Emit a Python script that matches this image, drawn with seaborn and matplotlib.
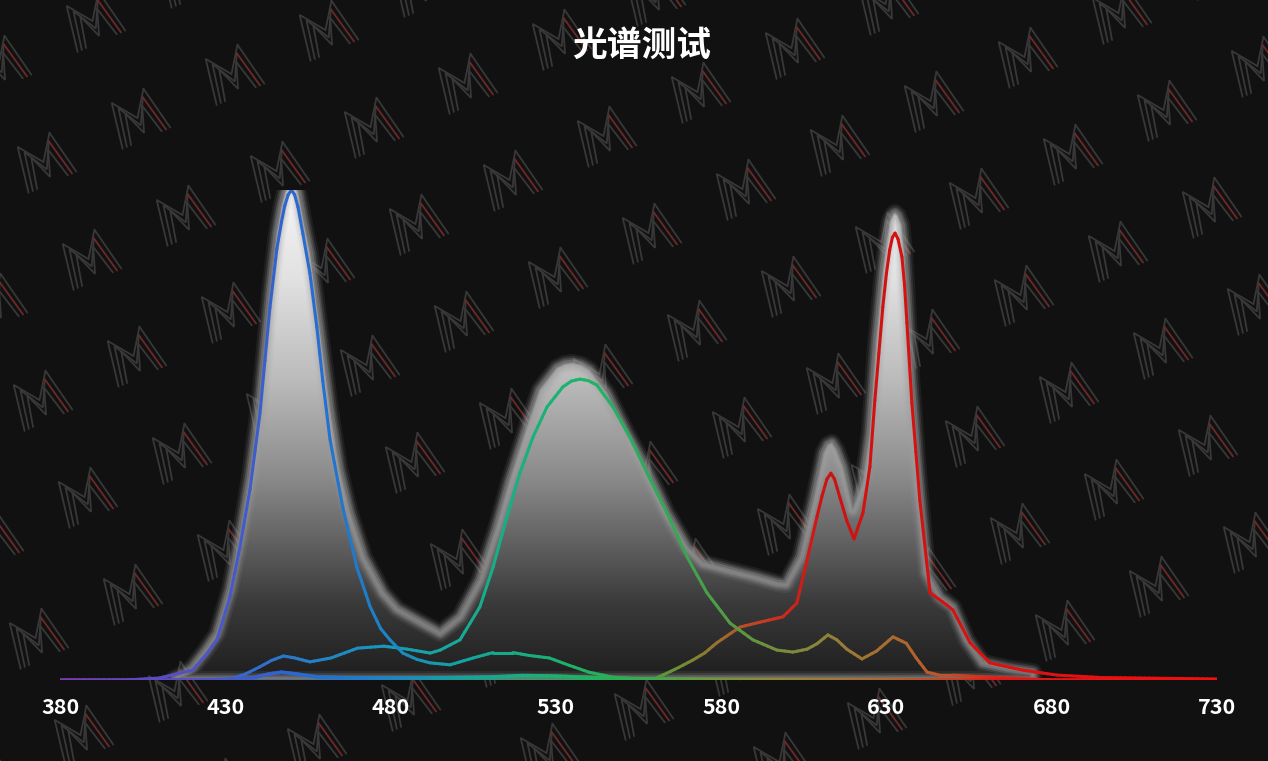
import numpy as np
import matplotlib
matplotlib.use("Agg")
import matplotlib.pyplot as plt
import seaborn as sns
from matplotlib.collections import LineCollection
from matplotlib.colors import LinearSegmentedColormap
from matplotlib.patches import Polygon

# ---- data (relative intensity, blue peak = 100) ----
ticks = [380, 430, 480, 530, 580, 630, 680, 730]
title = "光谱测试"

total_nm = [414.8, 417, 420, 424, 427.5, 431.4, 434.4, 437.5, 440.5, 443.5, 445.6, 447, 448, 449,
            450, 451, 452, 453.5, 455.6, 457.7, 461.7, 464.5, 467.7, 472, 477.7, 482, 488, 495,
            501, 507, 512.1, 516.1, 521.2, 525.1, 530.3, 532.7, 535.1, 537.7, 540.2, 545.4, 551.4,
            557.5, 563.6, 569.7, 574.5, 582.7, 590.8, 596.9, 599.6, 604, 608, 611, 612.3, 613.5,
            614.8, 616.8, 619.8, 622.9, 625, 627, 629, 630, 631, 632, 632.6, 633.4, 634.5, 635.3,
            636, 637.5, 639.4, 642.3, 646.2, 650.1, 654.3, 659.1, 666.4, 674.3]
total_val = [0.3, 1.0, 2.5, 6, 9.5, 18.5, 29, 41.5, 57, 78.5, 91, 96.5, 99.3, 101.3, 102, 101.3,
             99.5, 94, 87, 76, 55, 43, 34, 25, 17.8, 14.5, 12.2, 9.6, 12.9, 20.4, 31.2, 40.8,
             51.6, 59.2, 63.7, 64.5, 64.7, 64.3, 63.3, 58.6, 50.4, 42.9, 34.1, 27.1, 23.9, 22.4,
             21.0, 19.8, 19.6, 25.1, 36.7, 46.3, 48.0, 48.4, 47.0, 43.5, 34.7, 40.2, 50.4, 69.4,
             83.7, 89.0, 93.5, 95.0, 95.3, 94.8, 92.9, 87.5, 79.6, 61.2, 43.5, 21.8, 16.9, 14.9,
             8.2, 3.5, 2.4, 1.6]

blue_nm = [380, 400, 410, 415, 420, 424, 427.5, 431.4, 434.4, 437.5, 440.5, 443.5, 445.6, 447,
           448, 449, 450, 451, 452, 453.5, 455.6, 457.7, 459.5, 461.7, 465.6, 469.8, 473.8, 477,
           479.8, 483.7, 488, 491.9, 498, 505, 511, 517, 522, 528, 534, 540, 547, 555, 570, 600,
           650, 730]
blue_val = [0, 0, 0.4, 1.2, 2.0, 5, 8.2, 17, 27, 39, 54.5, 76, 88, 93.5, 96.8, 99, 100, 99,
            96.5, 91, 83, 72, 61, 49, 35, 23, 15, 10.5, 8.2, 5.5, 4.2, 3.5, 3.1, 4.5, 5.6, 5.6,
            5.0, 4.5, 3.0, 1.6, 0.6, 0.2, 0, 0, 0, 0]

green_nm = [380, 425, 432, 436, 440.5, 444, 447.6, 451, 455.6, 462, 470, 478, 485, 492, 495,
            501, 507, 511, 515.2, 519.1, 523.1, 527.3, 532.1, 534.7, 537.3, 539.8, 542.4, 547.3,
            552.4, 557.6, 563.6, 569.7, 575.7, 582.7, 589.6, 596.9, 601.7, 606, 609, 612.3, 615,
            618, 622.6, 627, 632, 636, 639, 642.3, 646, 650, 660, 670, 680, 730]
green_val = [0, 0, 0.3, 1.2, 2.7, 4.0, 4.9, 4.5, 3.7, 4.5, 6.5, 6.9, 6.3, 5.5, 6.1, 8.2, 14.9,
             23, 33.3, 42.2, 49.6, 55.7, 59.8, 61.0, 61.4, 61.1, 60.2, 55.7, 49.6, 42.2, 34.1,
             25.1, 17.8, 11.6, 8.2, 6.1, 5.7, 6.3, 7.4, 9.2, 8.2, 6.3, 4.3, 5.9, 8.8, 7.5, 4.5,
             1.6, 1.0, 1.0, 0.6, 0.3, 0, 0]

red_nm = [380, 555, 560, 563.6, 567, 571.5, 575, 578.7, 585.7, 591.7, 598.7, 602.9, 606, 609,
          610.5, 612, 613.2, 614.3, 615.9, 618, 620.2, 622.9, 625, 626.5, 628.9, 630, 631, 631.8,
          632.6, 633.5, 634.7, 635.5, 636.2, 637.7, 640.1, 643.2, 648.3, 650.1, 655.3, 661.3,
          671.3, 681.6, 695, 730]
red_val = [0, 0, 0.3, 1.4, 2.5, 4.1, 5.5, 7.6, 10.8, 11.8, 12.9, 15.7, 24.5, 33.3, 37.5, 41,
           42.2, 41, 37.3, 32.5, 28.8, 34.1, 43.5, 57.1, 76.1, 83, 87.8, 90.3, 91.2, 90, 86.3,
           80.5, 72.9, 56.5, 36.7, 17.8, 15.3, 14.3, 7.6, 3.5, 2.0, 1.0, 0.5, 0.2]

base_nm = [380, 430, 438, 443, 447, 452, 458, 470, 490, 510, 520, 530, 545, 560, 580, 660, 730]
base_val = [0, 0, 0.4, 1.2, 1.6, 1.2, 0.6, 0.4, 0.4, 0.6, 0.9, 0.8, 0.4, 0.2, 0.1, 0, 0]

# ---- colour stops along wavelength for each line ----
spectrum = [(380, "#7a3cb4"), (410, "#5a4cc0"), (430, "#4a58c8"), (445, "#3262cc"),
            (460, "#2470d0"), (480, "#1a86c4"), (500, "#16a0a4"), (520, "#18ae80"),
            (540, "#22b060"), (560, "#40a84a"), (575, "#6a9a3c"), (592, "#8a8a38"),
            (612, "#a07a34"), (632, "#b06430"), (650, "#c84020"), (665, "#e01818"),
            (730, "#f01010")]
green_stops = [(380, "#7a3cb4"), (440, "#2f6ecc"), (478, "#1898bc"), (500, "#16aa98"),
               (520, "#18b07e"), (540, "#1eb46a"), (565, "#34a854"), (585, "#5a9842"),
               (600, "#7a8c3c"), (615, "#948036"), (632, "#aa6a30"), (648, "#c05428"),
               (665, "#e02018"), (730, "#f01010")]
red_stops = [(380, "#7a3cb4"), (540, "#22b060"), (556, "#44a048"), (566, "#6a9038"),
             (576, "#8e7a30"), (586, "#b45628"), (596, "#c83420"), (604, "#d01e18"),
             (612, "#cc1212"), (730, "#ee1010")]


def stops_cmap(stops):
    pos = [(s - 380) / 350 for s, _ in stops]
    return LinearSegmentedColormap.from_list("c", list(zip(pos, [c for _, c in stops])))


def spectrum_line(ax, x, y, stops, lw=2.2, z=5):
    x = np.asarray(x, float)
    y = np.asarray(y, float)
    # cut each straight segment into short pieces so the colour can change along it
    xs, ys = [x[0]], [y[0]]
    for i in range(len(x) - 1):
        n = max(1, int(np.ceil((x[i + 1] - x[i]) / 1.5)))
        t = np.arange(1, n + 1) / n
        xs.extend(x[i] + (x[i + 1] - x[i]) * t)
        ys.extend(y[i] + (y[i + 1] - y[i]) * t)
    xs, ys = np.array(xs), np.array(ys)
    pts = np.column_stack([xs, ys]).reshape(-1, 1, 2)
    segs = np.concatenate([pts[:-1], pts[1:]], axis=1)
    mid = (xs[:-1] + xs[1:]) / 2
    cols = stops_cmap(stops)((mid - 380) / 350)
    ax.add_collection(LineCollection(segs, colors=cols, linewidths=lw, capstyle="round",
                                     joinstyle="round", zorder=z))


def draw_logo(ax, cx, cy, size=58, ang=24):
    # watermark "M": three parallel strokes, red stripe in the right leg
    a = np.deg2rad(ang)
    for k in range(3):
        lx = np.array([-0.45 + 0.08 * k, -0.3 + 0.07 * k, 0.0, 0.3 - 0.07 * k, 0.45 - 0.08 * k])
        ly = np.array([-0.4, 0.4 - 0.13 * k, -0.02 - 0.14 * k, 0.4 - 0.13 * k, -0.4])
        px = cx + (lx * np.cos(a) - ly * np.sin(a)) * size
        py = cy - (lx * np.sin(a) + ly * np.cos(a)) * size
        ax.plot(px[:4], py[:4], color="#383838", lw=1.3, solid_joinstyle="miter")
        ax.plot(px[3:], py[3:], color="#6e2828" if k == 1 else "#383838", lw=1.3)


bg = "#111111"
sns.set_theme(style="dark", rc={"axes.facecolor": bg, "figure.facecolor": bg})
plt.rcParams["font.family"] = ["Noto Sans CJK SC", "DejaVu Sans"]

W, H = 1268, 761
fig = plt.figure(figsize=(W / 100, H / 100), dpi=100)

# background layer with the watermark pattern (pixel coordinates)
bax = fig.add_axes([0, 0, 1, 1], zorder=0)
bax.set_xlim(0, W)
bax.set_ylim(H, 0)
bax.axis("off")
u = np.array([-94, 44])
v = np.array([233, 9])
o = np.array([92, 20])
for i in range(-8, 22):
    for j in range(-6, 10):
        p = o + i * u + j * v
        if -40 < p[0] < W + 40 and -40 < p[1] < H + 40:
            draw_logo(bax, p[0], p[1])

ax = fig.add_axes([60 / W, 81 / H, 1157 / W, 490 / H], zorder=1)
ax.patch.set_alpha(0)
ax.set_xlim(380, 730)
ax.set_ylim(0, 100)

# gradient filled total spectrum
poly_xy = np.column_stack([total_nm + [total_nm[-1], total_nm[0]], total_val + [0, 0]])
poly = Polygon(poly_xy, closed=True, facecolor="none", edgecolor="none")
ax.add_patch(poly)
grad = np.linspace(0, 1, 256).reshape(-1, 1)
fill_cmap = LinearSegmentedColormap.from_list(
    "g", [(0, "#1e1e1e"), (0.15, "#3a3a3a"), (0.4, "#8a8a8a"), (0.6, "#bcbcbc"),
          (0.8, "#e2e2e2"), (1.0, "#f8f8f8")])
im = ax.imshow(grad, extent=[380, 730, 0, 103], origin="lower", aspect="auto",
               cmap=fill_cmap, zorder=2)
im.set_clip_path(poly)

# soft grey glow around the outline
for lw, al in [(13, 0.10), (10, 0.16), (7.5, 0.25), (5, 0.35)]:
    sns.lineplot(x=poly_xy[:, 0], y=poly_xy[:, 1], sort=False, estimator=None, ax=ax,
                 color="#a0a0a0", lw=lw, alpha=al, zorder=3)
ax.plot(poly_xy[:, 0], poly_xy[:, 1], color="#8a8a8a", lw=2.0, alpha=0.5, zorder=3)

spectrum_line(ax, red_nm, red_val, red_stops, z=5)
spectrum_line(ax, green_nm, green_val, green_stops, z=6)
spectrum_line(ax, blue_nm, blue_val, spectrum, z=7)
spectrum_line(ax, base_nm, base_val, spectrum, lw=2.6, z=8)

ax.set_xticks(ticks)
ax.set_xticklabels([str(t) for t in ticks])
ax.set_yticks([])
ax.tick_params(axis="x", length=0, pad=12, labelsize=15.5, labelcolor="white")
for lab in ax.get_xticklabels():
    lab.set_fontweight("bold")
for s in ax.spines.values():
    s.set_visible(False)
ax.grid(False)
ax.set_xlabel("")
ax.set_ylabel("")

fig.text(642 / W, 1 - 45 / H, title, ha="center", va="center", fontsize=25,
         fontweight="bold", color="white", zorder=5)

fig.savefig("out.png", dpi=100, facecolor=bg)
